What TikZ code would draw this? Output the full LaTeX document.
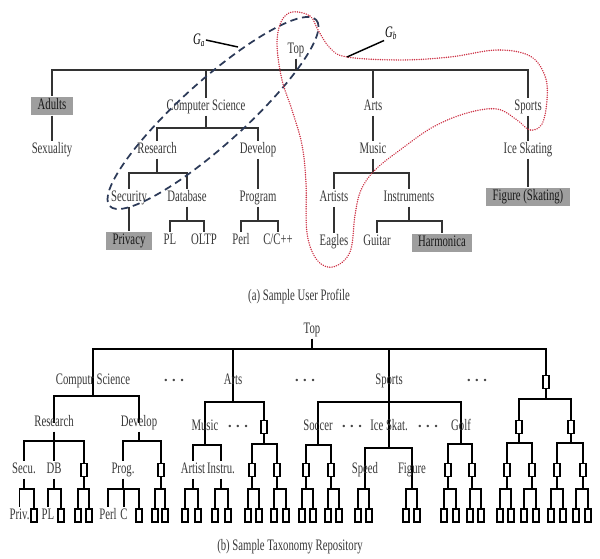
\documentclass[tikz,border=0pt]{standalone}
\usepackage{fontspec}
\setmainfont{Liberation Serif}[FakeStretch=0.67]
\usetikzlibrary{backgrounds}
\definecolor{navy}{RGB}{44,58,88}
\definecolor{redot}{RGB}{205,48,68}
\definecolor{hlgray}{RGB}{158,158,158}
\newcommand\fork[5]{%
  \begin{pgfonlayer}{background}
  \foreach \ch in {#4} {\draw[#1] (#2) -- (#2 |- 0,#3) -- (\ch.#5 |- 0,#3) -- (\ch.#5);}
  \end{pgfonlayer}}
\begin{document}
\begin{tikzpicture}[x=0.75pt,y=-0.75pt,
  tx/.style={font=\fontsize{12}{13}\selectfont, text=black!78, inner sep=1.2pt, text height=8.2pt, text depth=2.4pt},
  hl/.style={tx, text=black!90, fill=hlgray, inner xsep=5pt, minimum height=14pt},
  dots/.style={font=\fontsize{11.5}{12}\selectfont\boldmath, text=black!72, inner sep=0pt},
  ta/.style={draw=black!80, line width=0.8pt},
  tb/.style={draw=black, line width=1.15pt},
  bx/.style={draw=black, fill=white, line width=1.15pt, minimum width=4.8pt, minimum height=9.8pt, inner sep=0pt},
  gl/.style={font=\fontsize{12}{13}\selectfont\itshape, inner sep=0.5pt}]
\useasboundingbox (0,0) rectangle (600,558);
\begin{pgfonlayer}{background}
\fill[white] (0,0) rectangle (600,558);
\end{pgfonlayer}

% ---------- (a) Sample User Profile ----------
\node[tx] (aTop) at (296,50) {Top};
\node[hl] (aAdults) at (52,106) {Adults};
\node[tx] (aCS) at (206,107) {Computer Science};
\node[tx] (aArts) at (373,107) {Arts};
\node[tx] (aSports) at (528,107) {Sports};
\node[tx] (aSex) at (52,150) {Sexuality};
\node[tx] (aRes) at (157,150) {Research};
\node[tx] (aDev) at (258,150) {Develop};
\node[tx] (aMusic) at (373,150) {Music};
\node[tx] (aIce) at (528,150) {Ice Skating};
\node[tx] (aSec) at (129,198) {Security};
\node[tx] (aDB) at (187,198) {Database};
\node[tx] (aProg) at (258,198) {Program};
\node[tx] (aArtists) at (334,198) {Artists};
\node[tx] (aInst) at (409,198) {Instruments};
\node[hl] (aFig) at (528,197) {Figure (Skating)};
\node[hl] (aPriv) at (129,241) {Privacy};
\node[tx] (aPL) at (170,241) {PL};
\node[tx] (aOLTP) at (204,241) {OLTP};
\node[tx] (aPerl) at (241,241) {Perl};
\node[tx] (aCpp) at (278,241) {C/C++};
\node[tx] (aEagles) at (334,242) {Eagles};
\node[tx] (aGuitar) at (377,242) {Guitar};
\node[hl] (aHarm) at (442,243) {Harmonica};

\fork{ta}{aTop.south}{70}{aAdults,aCS,aArts,aSports}{north}
\fork{ta}{aCS.south}{128}{aRes,aDev}{north}
\fork{ta}{aRes.south}{173}{aSec,aDB}{north}
\fork{ta}{aDB.south}{221}{aPL,aOLTP}{north}
\fork{ta}{aProg.south}{221}{aPerl,aCpp}{north}
\fork{ta}{aMusic.south}{173}{aArtists,aInst}{north}
\fork{ta}{aInst.south}{221}{aGuitar,aHarm}{north}
\draw[ta] (aAdults.south) -- (aSex.north);
\draw[ta] (aDev.south) -- (aProg.north);
\draw[ta] (aSec.south) -- (aPriv.north);
\draw[ta] (aArts.south) -- (aMusic.north);
\draw[ta] (aArtists.south) -- (aEagles.north);
\draw[ta] (aSports.south) -- (aIce.north);
\draw[ta] (aIce.south) -- (aFig.north);

\node[tx] (capA) at (299,297) {(a) Sample User Profile};

% G_a and G_b
\draw[navy, line width=1.3pt, dash pattern=on 5.5pt off 3.5pt, rotate around={42:(213,113)}]
  (213,113) ellipse [x radius=139, y radius=32];
\draw[redot, line width=1.2pt, line cap=round, dash pattern=on 0.01pt off 1.7pt]
  plot[smooth cycle, tension=0.6] coordinates {
  (292,12) (310,16) (318,30) (330,48) (347,57) (400,60) (450,57) (497,50) (530,56)
  (545,76) (547,100) (542,124) (530,130) (517,120) (497,109) (467,113) (433,127)
  (400,150) (375,170) (361,190) (355,215) (350,252) (333,267) (317,260) (307,233)
  (306,183) (302,145) (292,110) (282,80) (277,45) (281,22)};
\node[gl] (Ga) at (199,40) {G\textsubscript{a}};
\coordinate (GaEnd) at (238,47);
\draw[line width=1.1pt] (Ga.east) -- (GaEnd);
\node[gl] (Gb) at (391,33) {G\textsubscript{b}};
\coordinate (GbEnd) at (347,57);
\draw[line width=1.1pt] (Gb.south west) -- (GbEnd);

% ---------- (b) Sample Taxonomy Repository ----------
\node[tx] (bTop) at (312,330) {Top};
\node[tx] (bCS) at (93,381) {Computr Science};
\node[tx] (bArts) at (233,381) {Arts};
\node[tx] (bSports) at (389,381) {Sports};
\node[bx] (bR) at (546,382) {};
\node[dots] (d1) at (174,381) {$\cdots$};
\node[dots] (d2) at (305,381) {$\cdots$};
\node[dots] (d3) at (477,381) {$\cdots$};

\node[tx] (bRes) at (54,423) {Research};
\node[tx] (bDev) at (139,423) {Develop};
\node[tx] (bMusic) at (205,427) {Music};
\node[dots] (d4) at (238,427) {$\cdots$};
\node[bx] (bAB) at (264,427) {};
\node[tx] (bSoc) at (318,427) {Soccer};
\node[dots] (d5) at (352,427) {$\cdots$};
\node[tx] (bIce) at (389,427) {Ice Skat.};
\node[dots] (d6) at (428,427) {$\cdots$};
\node[tx] (bGolf) at (461,427) {Golf};
\node[bx] (bR1) at (519,427) {};
\node[bx] (bR2) at (571,427) {};

\node[tx] (bSecu) at (24,470) {Secu.};
\node[tx] (bDB) at (54,470) {DB};
\node[bx] (bRB) at (84,470) {};
\node[tx] (bProg) at (123,470) {Prog.};
\node[bx] (bDB2) at (161,470) {};
\node[tx] (bArtist) at (193,470) {Artist};
\node[tx] (bInstru) at (221,470) {Instru.};
\node[bx] (bA1) at (252,470) {};
\node[bx] (bA2) at (277,470) {};
\node[bx] (bS1) at (306,470) {};
\node[bx] (bS2) at (331,470) {};
\node[tx] (bSpeed) at (365,470) {Speed};
\node[tx] (bFig) at (412,470) {Figure};
\node[bx] (bG1) at (448,470) {};
\node[bx] (bG2) at (472,470) {};
\node[bx] (bR11) at (507,470) {};
\node[bx] (bR12) at (532,470) {};
\node[bx] (bR21) at (557,470) {};
\node[bx] (bR22) at (583,470) {};

\node[tx] (bPriv) at (19.5,515.5) {Priv.};
\node[bx] (c1) at (34,515.5) {};
\node[tx] (bPL) at (48,515.5) {PL};
\node[bx] (c2) at (61,515.5) {};
\node[bx] (c3) at (78,515.5) {};
\node[bx] (c4) at (89,515.5) {};
\node[tx] (bPerl) at (108,515.5) {Perl};
\node[tx] (bC) at (124,515.5) {C};
\node[bx] (c5) at (139,515.5) {};
\node[bx] (c6) at (155,515.5) {};
\node[bx] (c7) at (165,515.5) {};
\node[bx] (c8) at (185,515.5) {};
\node[bx] (c9) at (198,515.5) {};
\node[bx] (c10) at (215,515.5) {};
\node[bx] (c11) at (228,515.5) {};
\node[bx] (c12) at (248,515.5) {};
\node[bx] (c13) at (259,515.5) {};
\node[bx] (c14) at (274,515.5) {};
\node[bx] (c15) at (286,515.5) {};
\node[bx] (c16) at (302,515.5) {};
\node[bx] (c17) at (313,515.5) {};
\node[bx] (c18) at (328,515.5) {};
\node[bx] (c19) at (339,515.5) {};
\node[bx] (c20) at (358,515.5) {};
\node[bx] (c21) at (369,515.5) {};
\node[bx] (c22) at (406,515.5) {};
\node[bx] (c23) at (417,515.5) {};
\node[bx] (c24) at (444,515.5) {};
\node[bx] (c25) at (456,515.5) {};
\node[bx] (c26) at (470,515.5) {};
\node[bx] (c27) at (481,515.5) {};
\node[bx] (c28) at (500,515.5) {};
\node[bx] (c29) at (511,515.5) {};
\node[bx] (c30) at (524,515.5) {};
\node[bx] (c31) at (536,515.5) {};
\node[bx] (c32) at (551,515.5) {};
\node[bx] (c33) at (563,515.5) {};
\node[bx] (c34) at (576,515.5) {};
\node[bx] (c35) at (588,515.5) {};

\fork{tb}{bTop.south}{349}{bCS,bArts,bSports,bR}{center}
\fork{tb}{bCS.center}{396}{bRes,bDev}{center}
\fork{tb}{bArts.center}{402}{bMusic,bAB}{center}
\fork{tb}{bSports.center}{402}{bSoc,bIce,bGolf}{center}
\fork{tb}{bR.center}{399}{bR1,bR2}{center}
\fork{tb}{bRes.south}{441}{bSecu,bDB,bRB}{north}
\fork{tb}{bDev.south}{441}{bProg,bDB2}{north}
\fork{tb}{bMusic.center}{445}{bArtist,bInstru}{north}
\fork{tb}{bAB.center}{444}{bA1,bA2}{center}
\fork{tb}{bSoc.center}{445}{bS1,bS2}{center}
\fork{tb}{bIce.center}{448}{bSpeed,bFig}{center}
\fork{tb}{bGolf.center}{444}{bG1,bG2}{center}
\fork{tb}{bR1.center}{443}{bR11,bR12}{center}
\fork{tb}{bR2.center}{443}{bR21,bR22}{center}
\fork{tb}{bSecu.south}{489}{bPriv,c1}{north}
\fork{tb}{bDB.south}{489}{bPL,c2}{north}
\fork{tb}{bRB.center}{489}{c3,c4}{center}
\fork{tb}{bProg.south}{489}{bPerl,bC,c5}{north}
\fork{tb}{bDB2.center}{489}{c6,c7}{center}
\fork{tb}{bArtist.south}{489}{c8,c9}{center}
\fork{tb}{bInstru.south}{489}{c10,c11}{center}
\fork{tb}{bA1.center}{489}{c12,c13}{center}
\fork{tb}{bA2.center}{489}{c14,c15}{center}
\fork{tb}{bS1.center}{489}{c16,c17}{center}
\fork{tb}{bS2.center}{489}{c18,c19}{center}
\fork{tb}{bSpeed.center}{489}{c20,c21}{center}
\fork{tb}{bFig.center}{489}{c22,c23}{center}
\fork{tb}{bG1.center}{489}{c24,c25}{center}
\fork{tb}{bG2.center}{489}{c26,c27}{center}
\fork{tb}{bR11.center}{489}{c28,c29}{center}
\fork{tb}{bR12.center}{489}{c30,c31}{center}
\fork{tb}{bR21.center}{489}{c32,c33}{center}
\fork{tb}{bR22.center}{489}{c34,c35}{center}

\node[tx] (capB) at (290,547) {(b) Sample Taxonomy Repository};
\end{tikzpicture}
\end{document}
